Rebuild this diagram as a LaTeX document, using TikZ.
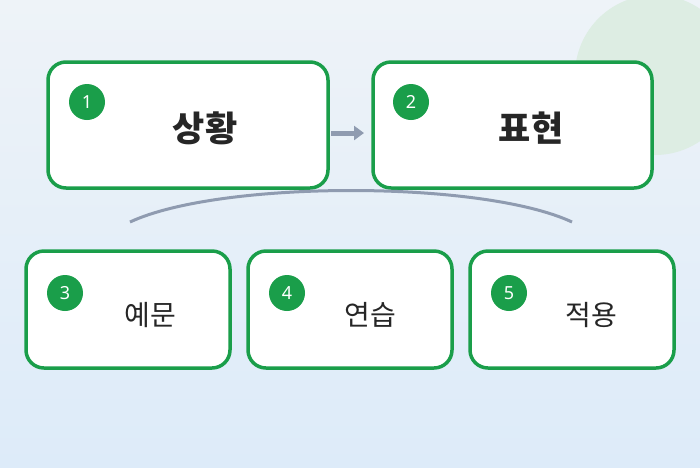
\documentclass[tikz,border=0pt]{standalone}
\usetikzlibrary{arrows.meta}
\usepackage{fontspec}
\newfontfamily\cjk{Noto Sans CJK KR}
\setmainfont{Noto Sans}
\definecolor{gr}{HTML}{1A9E4A}
\definecolor{bgtop}{HTML}{EEF3F8}
\definecolor{bgbot}{HTML}{DDEBF9}
\definecolor{arc}{HTML}{8F9BB0}
\definecolor{blob}{HTML}{DDEDE3}
\begin{document}
\begin{tikzpicture}[x=1pt,y=-1pt,
  box/.style={draw=gr,line width=3.5pt,fill=white,rounded corners=18pt},
  num/.style={circle,fill=gr,minimum size=36pt,inner sep=0pt,text=white,font=\fontsize{18}{18}\selectfont},
  big/.style={font=\cjk\fontsize{35}{35}\selectfont\bfseries,text=black!85},
  small/.style={font=\cjk\fontsize{28}{28}\selectfont,text=black!85}]
\useasboundingbox (0,0) rectangle (700,467);
\shade[top color=bgtop,bottom color=bgbot] (0,0) rectangle (700,467);
\begin{scope}
\clip (0,0) rectangle (700,467);
\fill[blob] (655,75) circle (80);
\end{scope}
\draw[box] (48,62) rectangle (328,188);
\draw[box] (373,62) rectangle (652,188);
\draw[box] (26,251) rectangle (230,368);
\draw[box] (248,251) rectangle (452,368);
\draw[box] (470,251) rectangle (674,368);
\node[num] (n1) at (87,102) {1};
\node[num] (n2) at (411,102) {2};
\node[num] (n3) at (65,293) {3};
\node[num] (n4) at (287,293) {4};
\node[num] (n5) at (509,293) {5};
\node[big] (t1) at (205,128) {상황};
\node[big] (t2) at (531,128) {표현};
\node[small] (t3) at (150,315) {예문};
\node[small] (t4) at (370,315) {연습};
\node[small] (t5) at (591,315) {적용};
\coordinate (a1) at (331,133); \coordinate (a2) at (364,133);
\draw[arc,line width=5pt,-{Triangle[length=10pt,width=14pt]}] (a1) -- (a2);
\coordinate (c1) at (130,222); \coordinate (c2) at (572,222);
\draw[arc,line width=3pt] (c1) .. controls (220,180) and (482,180) .. (c2);
\end{tikzpicture}
\end{document}
